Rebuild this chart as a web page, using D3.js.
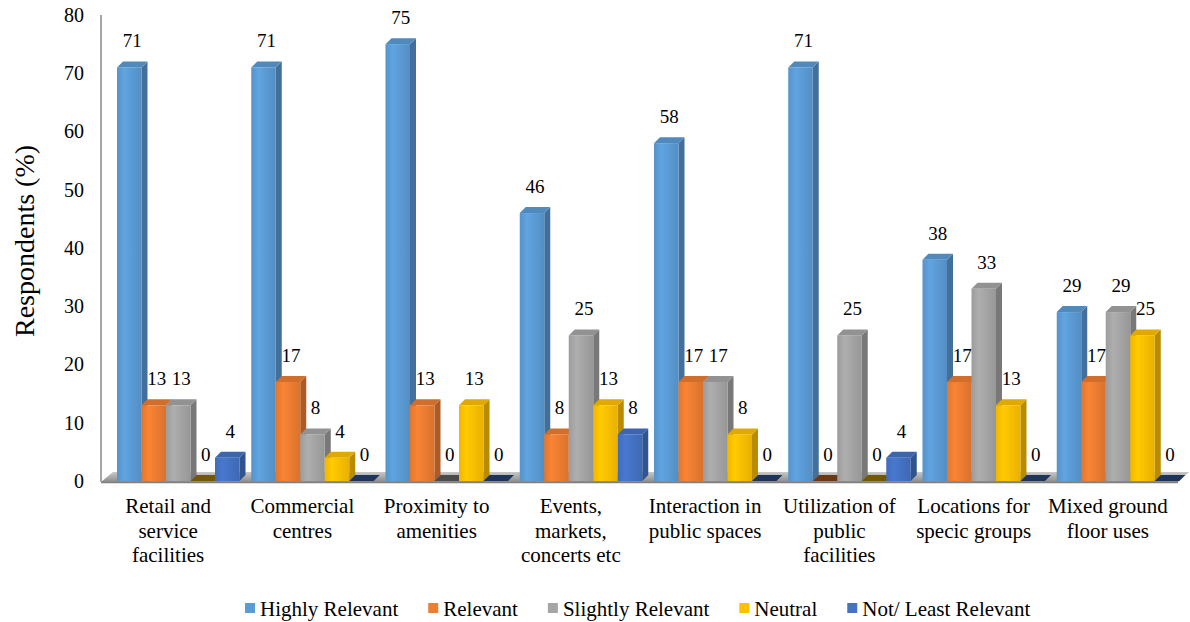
<!DOCTYPE html>
<html>
<head>
<meta charset="utf-8">
<script src="https://cdn.jsdelivr.net/npm/d3@7"></script>
<style>
  html, body { margin: 0; padding: 0; background: #fff; }
  svg { display: block; }
</style>
</head>
<body>
<svg id="chart" width="1190" height="622" font-family="Liberation Serif"></svg>
<script>
// ---- data ----
const categories = [
  ["Retail and", "service", "facilities"],
  ["Commercial", "centres"],
  ["Proximity to", "amenities"],
  ["Events,", "markets,", "concerts etc"],
  ["Interaction in", "public spaces"],
  ["Utilization of", "public", "facilities"],
  ["Locations for", "specic groups"],
  ["Mixed ground", "floor uses"]
];
const seriesNames = ["Highly Relevant", "Relevant", "Slightly Relevant", "Neutral", "Not/ Least Relevant"];
const highlyRelevant = [71, 71, 75, 46, 58, 71, 38, 29];
const relevant       = [13, 17, 13, 8, 17, 0, 17, 17];
const slightlyRelevant = [13, 8, 0, 25, 17, 25, 33, 29];
const neutral        = [0, 4, 13, 13, 8, 0, 13, 25];
const notRelevant    = [4, 0, 0, 8, 0, 4, 0, 0];
const seriesValues = [highlyRelevant, relevant, slightlyRelevant, neutral, notRelevant];
const seriesColors = ["#5B9BD5", "#ED7D31", "#A5A5A5", "#FFC000", "#4472C4"];
const yTicks = [0, 10, 20, 30, 40, 50, 60, 70, 80];
const yTitle = "Respondents (%)";

const FONT = "Liberation Serif, Times New Roman, serif";

// ---- layout ----
const svg = d3.select("#chart");
const plotLeft = 101, plotRight = 1175;
const yBottom = 481, yTop = 15;
const dx = 6, dy = 6;

const catKeys = categories.map((c, i) => i);
const x0 = d3.scaleBand().domain(catKeys).range([plotLeft, plotRight]).padding(0);
const x1 = d3.scaleBand().domain(d3.range(seriesNames.length)).range([16, 16 + 122.5]);
const y = d3.scaleLinear().domain([0, 80]).range([yBottom, yTop]);
const bw = x1.bandwidth();

const defs = svg.append("defs");
seriesColors.forEach((c, i) => {
  const g = defs.append("linearGradient").attr("id", "grad" + i)
    .attr("x1", "0%").attr("x2", "100%").attr("y1", "0%").attr("y2", "0%");
  g.append("stop").attr("offset", "0%").attr("stop-color", d3.color(c).darker(0.15));
  g.append("stop").attr("offset", "30%").attr("stop-color", d3.color(c).brighter(0.15));
  g.append("stop").attr("offset", "100%").attr("stop-color", d3.color(c).darker(0.25));
});
const floorGrad = defs.append("linearGradient").attr("id", "floorGrad")
  .attr("x1", "0%").attr("x2", "0%").attr("y1", "0%").attr("y2", "100%");
floorGrad.append("stop").attr("offset", "0%").attr("stop-color", "#c8c8c8");
floorGrad.append("stop").attr("offset", "100%").attr("stop-color", "#8c8c8c");

svg.append("path")
  .attr("d", `M${plotLeft},${yBottom + 1} L${plotLeft + 12},${yBottom - 9} L${plotRight + 14},${yBottom - 9} L${plotRight + 3},${yBottom + 1} Z`)
  .attr("fill", "url(#floorGrad)");
svg.append("line")
  .attr("x1", plotLeft).attr("x2", plotRight + 3)
  .attr("y1", yBottom + 1.5).attr("y2", yBottom + 1.5)
  .attr("stroke", "#7f7f7f").attr("stroke-width", 1.5);

svg.append("line")
  .attr("x1", plotLeft).attr("x2", plotLeft)
  .attr("y1", yTop).attr("y2", yBottom + 1)
  .attr("stroke", "#a6a6a6").attr("stroke-width", 2);

const yAxis = d3.axisLeft(y).tickValues(yTicks).tickSize(0).tickPadding(17);
const yg = svg.append("g").attr("transform", `translate(${plotLeft},0)`).call(yAxis)
  .attr("font-family", FONT).attr("font-size", 20);
yg.select(".domain").remove();
yg.selectAll("text").attr("fill", "#000");

svg.append("text")
  .attr("transform", `translate(34,241) rotate(-90)`)
  .attr("text-anchor", "middle")
  .attr("font-family", FONT)
  .attr("font-size", 28)
  .attr("fill", "#000")
  .text(yTitle);

const bars = [];
categories.forEach((c, ci) => {
  seriesValues.forEach((vals, si) => {
    bars.push({ ci, si, v: vals[ci] });
  });
});

const barG = svg.append("g");
bars.forEach(d => {
  const xl = x0(d.ci) + x1(d.si);
  const xr = xl + bw;
  const yt = y(d.v);
  const yb = y(0);
  const col = seriesColors[d.si];
  const g = barG.append("g");
  if (d.v === 0) {
    g.append("path")
      .attr("d", `M${xl},${yb} L${xr},${yb} L${xr + dx},${yb - dy} L${xl + dx},${yb - dy} Z`)
      .attr("fill", d3.color(col).darker(2.2));
    return;
  }
  g.append("path")
    .attr("d", `M${xr},${yt} L${xr + dx},${yt - dy} L${xr + dx},${yb - dy} L${xr},${yb} Z`)
    .attr("fill", d3.color(col).darker(0.9));
  g.append("path")
    .attr("d", `M${xl},${yt} L${xl + dx},${yt - dy} L${xr + dx},${yt - dy} L${xr},${yt} Z`)
    .attr("fill", d3.color(col).darker(0.35));
  g.append("rect")
    .attr("x", xl).attr("y", yt).attr("width", bw).attr("height", yb - yt)
    .attr("fill", `url(#grad${d.si})`);
});

svg.append("g").attr("font-family", FONT).attr("font-size", 19)
  .selectAll("text").data(bars).join("text")
  .attr("x", d => x0(d.ci) + x1(d.si) + bw / 2 + 3)
  .attr("y", d => y(d.v) - 20)
  .attr("text-anchor", "middle")
  .attr("fill", "#000")
  .text(d => d.v);

const catG = svg.append("g").attr("font-family", FONT).attr("font-size", 21);
categories.forEach((lines, ci) => {
  const cx = x0(ci) + x0.bandwidth() / 2;
  const t = catG.append("text")
    .attr("x", cx).attr("y", 513)
    .attr("text-anchor", "middle")
    .attr("fill", "#000");
  lines.forEach((ln, li) => {
    t.append("tspan").attr("x", cx).attr("y", 513 + li * 24.5).text(ln);
  });
});

const legend = svg.append("g").attr("font-family", FONT).attr("font-size", 21);
let lx = 245;
seriesNames.forEach((name, i) => {
  legend.append("rect").attr("x", lx).attr("y", 603).attr("width", 10).attr("height", 10)
    .attr("fill", seriesColors[i]);
  const t = legend.append("text").attr("x", lx + 15).attr("y", 616)
    .attr("fill", "#000").text(name);
  lx = lx + 15 + t.node().getComputedTextLength() + 30;
});
</script>
</body>
</html>
